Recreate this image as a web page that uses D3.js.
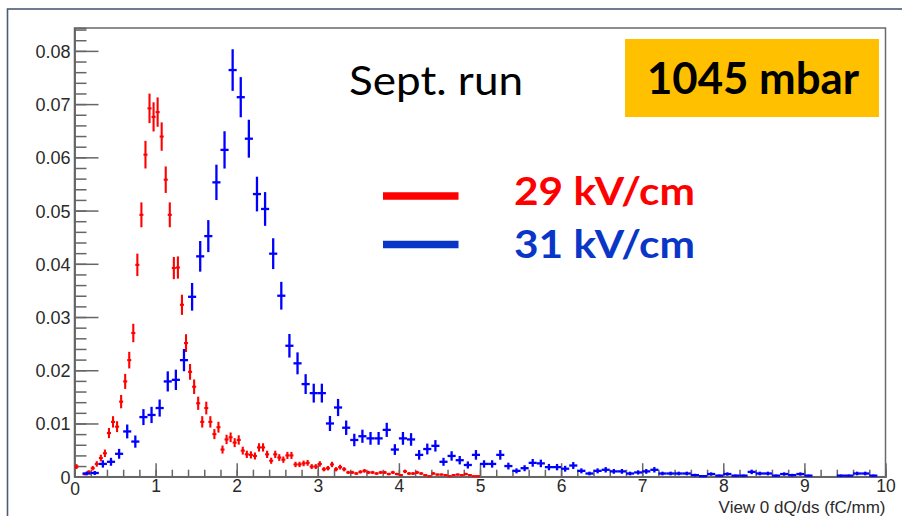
<!DOCTYPE html>
<html>
<head>
<meta charset="utf-8">
<script src="https://cdn.jsdelivr.net/npm/d3@7"></script>
<style>
  body { margin: 0; background: #fff; }
  svg { display: block; }
</style>
</head>
<body>
<svg id="chart" width="902" height="516"></svg>
<script>
// dQ/ds spectra, View 0, normalised to unit sum, 1045 mbar September run.
const xRange = [0, 10];
const yRange = [0, 0.0843];

// 29 kV/cm: 200 bins of 0.05 fC/mm (only the non-empty range 0..5 listed)
const redBinWidth = 0.05;
const red29 = [
  0.0019, 0,      0.0005, 0.0009, 0.0016, 0.0024, 0.0035, 0.0044, 0.0082, 0.0103,
  0.0094, 0.0141, 0.0179, 0.0219, 0.0270, 0.0398, 0.0492, 0.0605, 0.0692, 0.0676,
  0.0685, 0.0639, 0.0558, 0.0492, 0.0392, 0.0393, 0.0323, 0.0251, 0.0197, 0.0169,
  0.0138, 0.0103, 0.0129, 0.0103, 0.0080, 0.0093, 0.0051, 0.0070, 0.0074, 0.0064,
  0.0069, 0.0049, 0.0042, 0.0041, 0.0039, 0.0055, 0.0055, 0.0042, 0.0030, 0.0042,
  0.0036, 0.0032, 0.0040, 0.0040, 0.0023, 0.0023, 0.0025, 0.0026, 0.0019, 0.0019,
  0.0024, 0.0014, 0.0016, 0.0023, 0.0014, 0.0018, 0.0014, 0.0008, 0.0008, 0.0006,
  0.0009, 0.0011, 0.0008, 0.0008, 0.0006, 0.0008, 0.0008, 0.0005, 0.0008, 0.0005,
  0.0003, 0.0010, 0.0006, 0.0006, 0.0008, 0.0006, 0.0003, 0.0001, 0.0006, 0.0004,
  0.0004, 0.0003, 0.0001, 0.0003, 0.0004, 0.0003, 0.0005, 0.0003, 0.0001, 0.0001
];

// 31 kV/cm: 100 bins of 0.1 fC/mm
const blueBinWidth = 0.1;
const blue31 = [
  0,      0.0006, 0.0007, 0.0024, 0.0028, 0.0043, 0.0085, 0.0066, 0.0112, 0.0116,
  0.0129, 0.0179, 0.0182, 0.0219, 0.0338, 0.0414, 0.0452, 0.0553, 0.0614, 0.0764,
  0.0713, 0.0635, 0.0531, 0.0503, 0.0419, 0.0340, 0.0246, 0.0213, 0.0174, 0.0157,
  0.0157, 0.0100, 0.0130, 0.0092, 0.0069, 0.0076, 0.0072, 0.0072, 0.0088, 0.0051,
  0.0072, 0.0070, 0.0041, 0.0052, 0.0058, 0.0028, 0.0039, 0.0031, 0.0022, 0.0041,
  0.0024, 0.0024, 0.0041, 0.0020, 0.0011, 0.0016, 0.0026, 0.0025, 0.0018, 0.0018,
  0.0015, 0.0021, 0.0011, 0.0006, 0.0011, 0.0013, 0.0010, 0.0010, 0.0006, 0.0008,
  0.0010, 0.0013, 0.0006, 0.0006, 0.0006, 0.0006, 0.0003, 0.0001, 0.0005, 0.0002,
  0.0005, 0.0002, 0.0002, 0.0009, 0.0006, 0.0006, 0.0002, 0.0005, 0.0003, 0.0005,
  0.0002, 0,      0,      0,      0.0002, 0.0002, 0.0006, 0.0006, 0.0002, 0
];

// Entries behind each histogram (Poisson errors: sqrt(n)/N = sqrt(v/N))
const redEntries = 9000;
const blueEntries = 5000;

const xTickValues = [0, 1, 2, 3, 4, 5, 6, 7, 8, 9, 10];
const xTickLabels = ["0", "1", "2", "3", "4", "5", "6", "7", "8", "9", "10"];
const yTickValues = [0, 0.01, 0.02, 0.03, 0.04, 0.05, 0.06, 0.07, 0.08];
const yTickLabels = ["0", "0.01", "0.02", "0.03", "0.04", "0.05", "0.06", "0.07", "0.08"];

const xTitle = "View 0 dQ/ds (fC/mm)";
const runLabel = "Sept. run";
const pressureLabel = "1045 mbar";
const legendLabels = ["29 kV/cm", "31 kV/cm"];

const svg = d3.select("#chart");

const frame = { left: 74.5, right: 885.5, top: 28, bottom: 476.7 };
const x = d3.scaleLinear(xRange, [frame.left, frame.right]);
const y = d3.scaleLinear(yRange, [frame.bottom, frame.top]);

// slide border
svg.append("rect")
  .attr("x", 7.5).attr("y", 9)
  .attr("width", 902).attr("height", 520)
  .attr("fill", "none")
  .attr("stroke", "#4d5b73")
  .attr("stroke-width", 1.6);

// frame
svg.append("rect")
  .attr("x", frame.left).attr("y", frame.top)
  .attr("width", frame.right - frame.left)
  .attr("height", frame.bottom - frame.top)
  .attr("fill", "none")
  .attr("stroke", "#6a6a6a")
  .attr("stroke-width", 1.5);

const axisColor = "#666";
const labelFont = "'Liberation Sans', Arial, Helvetica, sans-serif";

function styleAxis(g, size) {
  g.select(".domain").attr("stroke", axisColor).attr("stroke-width", 1.5);
  g.selectAll(".tick line").attr("stroke", axisColor).attr("stroke-width", 1.5);
  g.selectAll(".tick text")
    .attr("fill", "#2a2a2a")
    .style("font-family", labelFont)
    .style("font-size", size + "px");
}

// Y axis: minor ticks every 0.002, major every 0.01, ticks point into the frame
const yMinor = d3.range(0, 0.0843, 0.002);
svg.append("g")
  .attr("transform", `translate(${frame.left},0)`)
  .call(d3.axisLeft(y).tickValues(yMinor).tickSize(-12).tickFormat(""))
  .call(styleAxis, 18);
svg.append("g")
  .attr("transform", `translate(${frame.left},0)`)
  .call(d3.axisLeft(y).tickValues(yTickValues).tickSizeInner(-24).tickSizeOuter(0)
    .tickPadding(4).tickFormat((d, i) => yTickLabels[i]))
  .call(styleAxis, 18)
  .call(g => g.selectAll(".tick text").attr("dy", "0.36em"));

// X axis: minor ticks every 0.2, major every 1
const xMinor = d3.range(0, 10.001, 0.2);
svg.append("g")
  .attr("transform", `translate(0,${frame.bottom})`)
  .call(d3.axisBottom(x).tickValues(xMinor).tickSize(-7).tickFormat(""))
  .call(styleAxis, 17.5);
svg.append("g")
  .attr("transform", `translate(0,${frame.bottom})`)
  .call(d3.axisBottom(x).tickValues(xTickValues).tickSizeInner(-13.5).tickSizeOuter(0)
    .tickPadding(3).tickFormat((d, i) => xTickLabels[i]))
  .call(styleAxis, 17.5)
  .call(g => g.selectAll(".tick text").attr("dy", "0.72em"))
  .call(g => g.selectAll(".tick").filter(d => d === 0).select("text").attr("dy", "0.9em"));

// x-axis title, right aligned with the frame
svg.append("text")
  .attr("x", frame.right).attr("y", 513)
  .attr("text-anchor", "end")
  .attr("fill", "#2a2a2a")
  .style("font-family", labelFont)
  .style("font-size", "17px")
  .text(xTitle);

// histogram points with error bars
function drawHist(values, binWidth, entries, color, width) {
  const pts = values
    .map((v, i) => ({ lo: i * binWidth, hi: (i + 1) * binWidth, v, e: Math.sqrt(v / entries) }))
    .filter(d => d.v > 0);
  const g = svg.append("g").attr("stroke", color).attr("stroke-width", width);
  g.selectAll("line.h").data(pts).join("line")
    .attr("class", "h")
    .attr("x1", d => x(d.lo)).attr("x2", d => x(d.hi))
    .attr("y1", d => y(d.v)).attr("y2", d => y(d.v));
  g.selectAll("line.v").data(pts).join("line")
    .attr("class", "v")
    .attr("x1", d => x((d.lo + d.hi) / 2)).attr("x2", d => x((d.lo + d.hi) / 2))
    .attr("y1", d => y(Math.max(0, d.v - d.e))).attr("y2", d => y(d.v + d.e));
}

drawHist(red29, redBinWidth, redEntries, "#ff0000", 2.1);
drawHist(blue31, blueBinWidth, blueEntries, "#0000ff", 2.3);

// annotations
const noteFont = "Lato, 'Open Sans', sans-serif";

svg.append("text")
  .attr("x", 349).attr("y", 95)
  .attr("textLength", 174).attr("lengthAdjust", "spacingAndGlyphs")
  .attr("fill", "#000")
  .style("font-family", noteFont)
  .style("font-size", "40px")
  .text(runLabel);

svg.append("rect")
  .attr("x", 625).attr("y", 39)
  .attr("width", 254).attr("height", 78)
  .attr("fill", "#ffc000");

svg.append("text")
  .attr("x", 647).attr("y", 94)
  .attr("textLength", 212).attr("lengthAdjust", "spacingAndGlyphs")
  .attr("fill", "#000")
  .style("font-family", noteFont)
  .style("font-weight", "bold")
  .style("font-size", "44px")
  .text(pressureLabel);

// legend
const legendColors = ["#ff0000", "#0a36c8"];
const legendY = [196, 244.5];
const legendBase = [205, 258];
legendLabels.forEach((lab, i) => {
  svg.append("line")
    .attr("x1", 383).attr("x2", 458.5)
    .attr("y1", legendY[i]).attr("y2", legendY[i])
    .attr("stroke", legendColors[i])
    .attr("stroke-width", 7.5);
  svg.append("text")
    .attr("x", 514).attr("y", legendBase[i])
    .attr("textLength", 181).attr("lengthAdjust", "spacingAndGlyphs")
    .attr("fill", legendColors[i])
    .style("font-family", noteFont)
    .style("font-weight", "bold")
    .style("font-size", "39px")
    .text(lab);
});
</script>
</body>
</html>
